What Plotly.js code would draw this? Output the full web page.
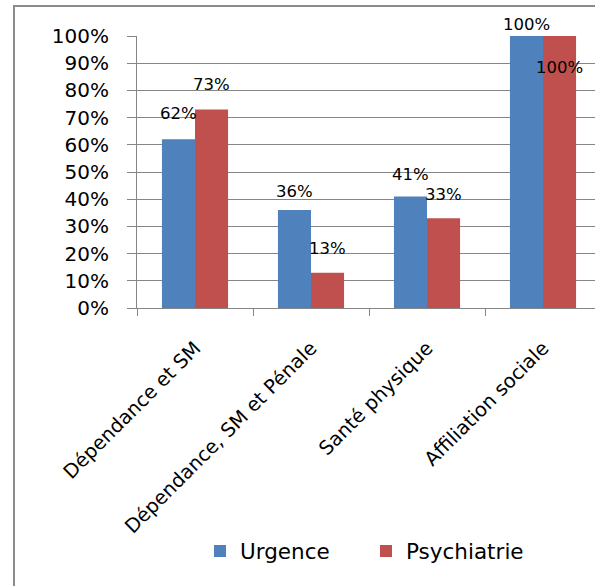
<!DOCTYPE html>
<html>
<head>
<meta charset="utf-8">
<script src="https://cdn.plot.ly/plotly-3.0.1.min.js"></script>
<style>
  html, body { margin: 0; padding: 0; background: #fff; overflow: hidden; }
  #wrap { position: relative; width: 595px; height: 586px; overflow: hidden; }
  #chart { position: absolute; left: 0; top: 0; width: 610px; height: 586px; }
  #frame {
    position: absolute; left: 13px; top: 5px; width: 800px; height: 800px;
    border-left: 2px solid #8c8c8c; border-top: 2px solid #8c8c8c;
    pointer-events: none;
  }
</style>
</head>
<body>
<div id="wrap">
  <div id="chart"></div>
  <div id="frame"></div>
</div>
<script>
// Categories and the two series (shares, 0..1)
const categories = [
  "Dépendance et SM",
  "Dépendance, SM et Pénale",
  "Santé physique",
  "Affiliation sociale"
];
const urgence = [0.62, 0.36, 0.41, 1.00];
const psychiatrie = [0.73, 0.13, 0.33, 1.00];
const seriesNames = ["Urgence", "Psychiatrie"];
const yTickValues = [0, 0.1, 0.2, 0.3, 0.4, 0.5, 0.6, 0.7, 0.8, 0.9, 1.0];

// Vertical pixel offsets of each value label above its bar top
const urgenceLabelLift = [26, 19, 22, 12];
const psychiatrieLabelLift = [25, 24, 24, -31];

const BLUE = "#4F81BD";
const RED = "#C0504D";
const GRID = "#868686";
const FONT = "DejaVu Sans";
const BARGAP = 0.43;

const traces = [
  {
    type: "bar", name: seriesNames[0], x: categories, y: urgence,
    marker: { color: BLUE, line: { width: 0 } }, hoverinfo: "none"
  },
  {
    type: "bar", name: seriesNames[1], x: categories, y: psychiatrie,
    marker: { color: RED, line: { width: 0 } }, hoverinfo: "none"
  }
];

// Value labels sit over the centre of each bar within its group
const half = (1 - BARGAP) / 4;
const annotations = [];
function pct(v) { return Math.round(v * 100) + "%"; }
categories.forEach((c, i) => {
  annotations.push({
    x: i - half, y: urgence[i], xref: "x", yref: "y",
    text: pct(urgence[i]), showarrow: false, yshift: urgenceLabelLift[i],
    font: { family: FONT, size: 16.5, color: "#000" }
  });
  annotations.push({
    x: i + half, y: psychiatrie[i], xref: "x", yref: "y",
    text: pct(psychiatrie[i]), showarrow: false, yshift: psychiatrieLabelLift[i],
    font: { family: FONT, size: 16.5, color: "#000" }
  });
});

const layout = {
  width: 610, height: 586,
  margin: { l: 137, r: 9, t: 36, b: 278, autoexpand: false },
  paper_bgcolor: "#fff", plot_bgcolor: "#fff",
  font: { family: FONT, color: "#000" },
  barmode: "group", bargap: BARGAP, bargroupgap: 0,
  showlegend: true,
  legend: {
    orientation: "h", x: (200 - 137) / 464, xanchor: "left",
    y: (308 - 551) / 272, yanchor: "middle",
    font: { family: FONT, size: 21.5, color: "#000" },
    entrywidth: 121, entrywidthmode: "pixels",
    bgcolor: "rgba(0,0,0,0)", borderwidth: 0, itemclick: false
  },
  xaxis: {
    type: "category", categoryorder: "array", categoryarray: categories,
    tickson: "boundaries", ticks: "outside", ticklen: 7, tickcolor: GRID, tickwidth: 1,
    showline: true, linecolor: GRID, linewidth: 1, showgrid: false, zeroline: false,
    tickangle: -45, ticklabelstandoff: 20,
    tickfont: { family: FONT, size: 19.5, color: "#000" },
    automargin: false, fixedrange: true
  },
  yaxis: {
    range: [0, 1], tickvals: yTickValues, tickformat: ".0%",
    showgrid: true, gridcolor: GRID, gridwidth: 1,
    showline: true, linecolor: GRID, linewidth: 1, zeroline: false,
    ticks: "outside", ticklen: 9, tickcolor: GRID, tickwidth: 1,
    ticklabelstandoff: 14,
    tickfont: { family: FONT, size: 20, color: "#000" },
    automargin: false, fixedrange: true
  },
  annotations: annotations
};

Plotly.newPlot("chart", traces, layout, { staticPlot: true, displayModeBar: false });
</script>
</body>
</html>
